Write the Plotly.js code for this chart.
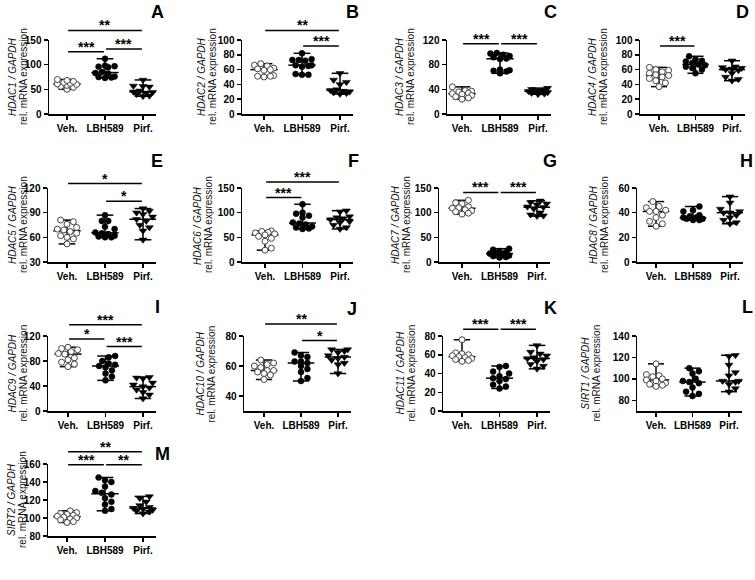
<!DOCTYPE html>
<html><head><meta charset="utf-8">
<script src="https://cdn.plot.ly/plotly-3.0.1.min.js"></script>
<style>html,body{margin:0;padding:0;background:#fff}#chart{width:755px;height:580px}</style>
</head><body><div id="chart"></div>
<script>
const groups = ['Veh.', 'LBH589', 'Pirf.'];
const genes = ['HDAC1','HDAC2','HDAC3','HDAC4','HDAC5','HDAC6','HDAC7','HDAC8','HDAC9','HDAC10','HDAC11','SIRT1','SIRT2'];
const letters = ['A','B','C','D','E','F','G','H','I','J','K','L','M'];

const HDAC1_veh = [50, 54, 56, 58, 60, 61, 62, 64, 66, 68, 70];
const HDAC1_lbh = [112, 98, 97, 96, 95, 85, 83, 82, 76, 75, 74, 73];
const HDAC1_pirf = [69, 57, 56, 55, 47, 45, 44, 43, 40, 37, 36];
const HDAC2_veh = [68, 66, 65, 62, 61, 60, 59, 52, 51, 51, 50];
const HDAC2_lbh = [82, 74, 73, 73, 72, 66, 66, 65, 64, 54, 53, 53];
const HDAC2_pirf = [55, 46, 43, 40, 33, 32, 31, 30, 29, 28, 27];
const HDAC3_veh = [44, 38, 37, 36, 34, 33, 32, 30, 28, 26, 24];
const HDAC3_lbh = [99, 98, 96, 94, 92, 90, 89, 72, 71, 70, 69, 66];
const HDAC3_pirf = [42, 40, 39, 38, 37, 37, 36, 35, 34, 33, 32];
const HDAC4_veh = [63, 60, 59, 57, 55, 53, 52, 50, 48, 45, 42, 37];
const HDAC4_lbh = [78, 74, 72, 71, 69, 67, 66, 64, 62, 60, 55];
const HDAC4_pirf = [72, 64, 63, 62, 61, 60, 59, 55, 50, 47, 45];
const HDAC5_veh = [81, 79, 76, 72, 70, 69, 67, 65, 62, 60, 58, 52];
const HDAC5_lbh = [87, 80, 80, 73, 70, 66, 65, 64, 62, 61, 60, 60];
const HDAC5_pirf = [95, 92, 90, 88, 85, 82, 80, 75, 72, 68, 57];
const HDAC6_veh = [63, 62, 60, 59, 57, 55, 52, 48, 42, 28, 24];
const HDAC6_lbh = [117, 100, 98, 94, 90, 80, 78, 76, 72, 70, 68, 67];
const HDAC6_pirf = [104, 102, 92, 90, 88, 86, 82, 80, 75, 70, 67];
const HDAC7_veh = [125, 120, 118, 112, 110, 109, 106, 104, 102, 99, 97];
const HDAC7_lbh = [27, 25, 22, 20, 18, 17, 15, 13, 12, 10, 9];
const HDAC7_pirf = [124, 121, 118, 116, 112, 111, 108, 100, 96, 94, 93];
const HDAC8_veh = [49, 45, 44, 42, 41, 41, 38, 36, 33, 31, 29];
const HDAC8_lbh = [45, 42, 41, 38, 37, 36, 36, 35, 35, 34, 34];
const HDAC8_pirf = [53, 48, 43, 41, 40, 40, 38, 36, 34, 32, 31];
const HDAC9_veh = [102, 100, 98, 95, 92, 91, 85, 82, 78, 75, 71];
const HDAC9_lbh = [88, 86, 80, 76, 74, 72, 70, 65, 60, 55, 49];
const HDAC9_pirf = [54, 53, 52, 45, 42, 39, 37, 34, 30, 26, 20];
const HDAC10_veh = [64, 62, 61, 60, 59, 57, 57, 56, 55, 54, 51];
const HDAC10_lbh = [69, 67, 66, 63, 63, 62, 60, 58, 56, 52, 50];
const HDAC10_pirf = [71, 71, 70, 69, 67, 66, 65, 64, 62, 61, 55];
const HDAC11_veh = [76, 62, 61, 60, 59, 58, 57, 56, 55, 54, 53];
const HDAC11_lbh = [48, 47, 42, 40, 37, 35, 34, 32, 28, 26, 24];
const HDAC11_pirf = [70, 63, 61, 59, 57, 56, 55, 53, 50, 48, 45];
const SIRT1_veh = [114, 104, 103, 102, 100, 99, 98, 96, 95, 94, 93];
const SIRT1_lbh = [110, 107, 105, 100, 98, 97, 96, 92, 88, 86, 84];
const SIRT1_pirf = [122, 121, 113, 106, 103, 98, 98, 97, 95, 91, 88];
const SIRT2_veh = [108, 106, 105, 104, 103, 102, 101, 100, 99, 98, 96, 95];
const SIRT2_lbh = [145, 142, 140, 135, 130, 128, 126, 122, 118, 115, 110, 108];
const SIRT2_pirf = [124, 122, 118, 114, 112, 111, 110, 109, 108, 107, 105];

// significance: [group i, group j, label]
const HDAC1_sig = [[0,1,'***'],[1,2,'***'],[0,2,'**']];
const HDAC2_sig = [[1,2,'***'],[0,2,'**']];
const HDAC3_sig = [[0,1,'***'],[1,2,'***']];
const HDAC4_sig = [[0,1,'***']];
const HDAC5_sig = [[1,2,'*'],[0,2,'*']];
const HDAC6_sig = [[0,1,'***'],[0,2,'***']];
const HDAC7_sig = [[0,1,'***'],[1,2,'***']];
const HDAC8_sig = [];
const HDAC9_sig = [[0,1,'*'],[1,2,'***'],[0,2,'***']];
const HDAC10_sig = [[1,2,'*'],[0,2,'**']];
const HDAC11_sig = [[0,1,'***'],[1,2,'***']];
const SIRT1_sig = [];
const SIRT2_sig = [[0,1,'***'],[1,2,'**'],[0,2,'**']];

const dataSets = [
  [HDAC1_veh, HDAC1_lbh, HDAC1_pirf, HDAC1_sig],
  [HDAC2_veh, HDAC2_lbh, HDAC2_pirf, HDAC2_sig],
  [HDAC3_veh, HDAC3_lbh, HDAC3_pirf, HDAC3_sig],
  [HDAC4_veh, HDAC4_lbh, HDAC4_pirf, HDAC4_sig],
  [HDAC5_veh, HDAC5_lbh, HDAC5_pirf, HDAC5_sig],
  [HDAC6_veh, HDAC6_lbh, HDAC6_pirf, HDAC6_sig],
  [HDAC7_veh, HDAC7_lbh, HDAC7_pirf, HDAC7_sig],
  [HDAC8_veh, HDAC8_lbh, HDAC8_pirf, HDAC8_sig],
  [HDAC9_veh, HDAC9_lbh, HDAC9_pirf, HDAC9_sig],
  [HDAC10_veh, HDAC10_lbh, HDAC10_pirf, HDAC10_sig],
  [HDAC11_veh, HDAC11_lbh, HDAC11_pirf, HDAC11_sig],
  [SIRT1_veh, SIRT1_lbh, SIRT1_pirf, SIRT1_sig],
  [SIRT2_veh, SIRT2_lbh, SIRT2_pirf, SIRT2_sig]
];

// ---- layout geometry (pixels) ----
const W = 755, H = 580;
const geo = [
  {ax0:49, c0:67, c2:143, top:40, bot:114, yr:[0,150], tv:[0,50,100,150], tx:18, lx:157, ly:12, lev:[0.84,0.88,1.13]},
  {ax0:242, c0:264, c2:340, top:40, bot:114, yr:[0,100], tv:[0,20,40,60,80,100], tx:207, lx:352, ly:12, lev:[0.92,1.13]},
  {ax0:447, c0:462, c2:538, top:40, bot:114, yr:[0,120], tv:[0,40,80,120], tx:405, lx:550, ly:12, lev:[0.95,0.95]},
  {ax0:640, c0:659, c2:732, top:40, bot:114, yr:[0,100], tv:[0,20,40,60,80,100], tx:598, lx:742, ly:12, lev:[0.92]},
  {ax0:48, c0:67, c2:143, top:188, bot:262, yr:[30,120], tv:[30,60,90,120], tx:18, lx:157, ly:161, lev:[0.82,1.06]},
  {ax0:242, c0:265, c2:340, top:188, bot:262, yr:[0,150], tv:[0,50,100,150], tx:203, lx:353, ly:161, lev:[0.87,1.08]},
  {ax0:439, c0:462, c2:537, top:188, bot:262, yr:[0,150], tv:[0,50,100,150], tx:401, lx:550, ly:161, lev:[0.94,0.94]},
  {ax0:637, c0:656, c2:730, top:188, bot:262, yr:[0,60], tv:[0,20,40,60], tx:599, lx:746, ly:161, lev:[]},
  {ax0:48, c0:68, c2:143, top:336, bot:411, yr:[0,120], tv:[0,40,80,120], tx:18, lx:157, ly:307, lev:[0.96,0.86,1.15]},
  {ax0:244, c0:264, c2:338, top:336, bot:411, yr:[30,80], tv:[40,60,80], tx:206, lx:352, ly:309, lev:[0.94,1.16]},
  {ax0:443, c0:462, c2:537, top:336, bot:411, yr:[0,80], tv:[0,20,40,60,80], tx:406, lx:550, ly:308, lev:[1.09,1.09]},
  {ax0:637, c0:656, c2:729, top:336, bot:411, yr:[70,140], tv:[80,100,120,140], tx:591, lx:747, ly:307, lev:[]},
  {ax0:48, c0:67, c2:143, top:464, bot:536, yr:[80,160], tv:[80,100,120,140,160], tx:18, lx:162, ly:454, lev:[0.99,0.99,1.17]}
];

const FONT = 'Liberation Sans, Arial, sans-serif';
const median = a => { const s=[...a].sort((x,y)=>x-y); const m=Math.floor(s.length/2); return s.length%2? s[m] : (s[m-1]+s[m])/2; };

// compact beeswarm offsets (pixel space, limited width)
function swarm(vals, pyu, pxu, diam, maxOffPx) {
  const idx = vals.map((v,i)=>i).sort((a,b)=>vals[a]-vals[b]);
  const placed = []; const offs = new Array(vals.length).fill(0);
  const step = 3.2, nMax = Math.floor(maxOffPx/step);
  idx.forEach(i => {
    const y = vals[i]*pyu;
    let best = 0, bestD = -1;
    for (let k=0;k<=2*nMax;k++){
      const m = k===0?0:(k%2? Math.ceil(k/2): -Math.ceil(k/2));
      const x = m*step;
      const d = placed.length ? Math.min(...placed.map(p=>Math.hypot(p[0]-x, p[1]-y))) : Infinity;
      if (d >= diam) { best = x; bestD = d; break; }
      if (d > bestD) { bestD = d; best = x; }
    }
    placed.push([best,y]); offs[i] = best/pxu;
  });
  return offs;
}

const traces = [], layout = {
  width: W, height: H, margin:{l:0,r:0,t:0,b:0}, paper_bgcolor:'#fff', plot_bgcolor:'rgba(0,0,0,0)',
  showlegend:false, annotations:[], shapes:[], font:{family:FONT, color:'#000'}
};
const markerStyles = [
  {symbol:'circle', size:6, color:'#fff', line:{color:'#444', width:1}},
  {symbol:'circle', size:6, color:'#000', line:{color:'#000', width:0.5}},
  {symbol:'triangle-down', size:7, color:'#000', line:{color:'#000', width:0.5}}
];

dataSets.forEach((ds, p) => {
  const n = p+1, g = geo[p];
  const xa = n===1?'x':'x'+n, ya = n===1?'y':'y'+n;
  const s = (g.c2-g.c0)/2;
  const ax1 = g.c2 + 13;
  const r0 = (g.ax0-g.c0)/s, r1 = 2 + (ax1-g.c2)/s;
  const pyu = (g.bot-g.top)/(g.yr[1]-g.yr[0]);
  const lx = [], ly = [];
  for (let k=0;k<3;k++){
    const v = ds[k]; const md = median(v), mn = Math.min(...v), mx = Math.max(...v);
    lx.push(k-0.36, k+0.36, null, k, k, null, k-0.22, k+0.22, null, k-0.22, k+0.22, null);
    ly.push(md, md, null, mn, mx, null, mn, mn, null, mx, mx, null);
  }
  traces.push({type:'scatter', mode:'lines', x:lx, y:ly, xaxis:xa, yaxis:ya, line:{color:'#000', width:1.5}, hoverinfo:'skip', connectgaps:false});
  for (let k=0;k<3;k++){
    const v = ds[k];
    const off = swarm(v, pyu, s, 6, 11);
    traces.push({type:'scatter', mode:'markers', x:v.map((_,i)=>k+off[i]), y:v, xaxis:xa, yaxis:ya, marker:markerStyles[k], cliponaxis:false, name:groups[k]});
  }
  const axKey = n===1?'':n;
  layout['xaxis'+axKey] = {domain:[g.ax0/W, ax1/W], range:[r0,r1], anchor:ya, tickvals:[0,1,2], ticktext:groups,
    showline:true, linecolor:'#000', linewidth:1.5, ticks:'outside', ticklen:4, tickwidth:1.5, tickcolor:'#000',
    showgrid:false, zeroline:false, fixedrange:true, tickfont:{family:FONT, size:10, weight:700, color:'#000'}};
  layout['yaxis'+axKey] = {domain:[1-g.bot/H, 1-g.top/H], range:g.yr, anchor:xa, tickvals:g.tv,
    showline:true, linecolor:'#000', linewidth:1.5, ticks:'outside', ticklen:4, tickwidth:1.5, tickcolor:'#000',
    showgrid:false, zeroline:false, fixedrange:true, tickfont:{family:FONT, size:10, weight:700, color:'#000'}};
  const yc = 1-(g.top+g.bot)/2/H;
  layout.annotations.push({xref:'paper', yref:'paper', x:(g.tx-6)/W, y:yc, xanchor:'center', yanchor:'middle',
    textangle:-90, showarrow:false, text:'<i>'+genes[p]+' / GAPDH</i>', font:{family:FONT, size:10, color:'#111'}});
  layout.annotations.push({xref:'paper', yref:'paper', x:(g.tx+5)/W, y:yc, xanchor:'center', yanchor:'middle',
    textangle:-90, showarrow:false, text:'rel. mRNA expression', font:{family:FONT, size:10, color:'#111'}});
  layout.annotations.push({xref:'paper', yref:'paper', x:g.lx/W, y:1-g.ly/H, xanchor:'center', yanchor:'middle',
    showarrow:false, text:letters[p], font:{family:FONT, size:18, weight:700, color:'#000'}});
  ds[3].forEach((sg, j) => {
    const lev = g.lev[j];
    const a = sg[0]+0.03, b = sg[1]-0.03;
    layout.shapes.push({type:'line', xref:xa+' domain', yref:ya+' domain', x0:(a-r0)/(r1-r0), x1:(b-r0)/(r1-r0), y0:lev, y1:lev, line:{color:'#000', width:1.5}});
    layout.annotations.push({xref:xa+' domain', yref:ya+' domain', x:((sg[0]+sg[1])/2-r0)/(r1-r0), y:lev, xanchor:'center', yanchor:'bottom', yshift:-5,
      showarrow:false, text:sg[2], font:{family:FONT, size:14, weight:700, color:'#000'}});
  });
});

Plotly.newPlot('chart', traces, layout, {staticPlot:true, displayModeBar:false});
</script>
</body></html>
